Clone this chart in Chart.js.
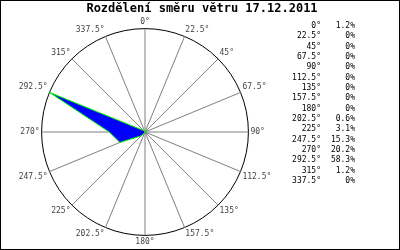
<!DOCTYPE html>
<html>
<head>
<meta charset="utf-8">
<script src="https://cdn.jsdelivr.net/npm/chart.js@4.4.0/dist/chart.umd.min.js"></script>
<style>
  html, body { margin: 0; padding: 0; background: #fff; }
  canvas { display: block; }
</style>
</head>
<body>
<canvas id="vitr" width="400" height="250"></canvas>
<script>
const smery = ["0°", "22.5°", "45°", "67.5°", "90°", "112.5°", "135°", "157.5°",
  "180°", "202.5°", "225°", "247.5°", "270°", "292.5°", "315°", "337.5°"];
const procenta = [1.2, 0, 0, 0, 0, 0, 0, 0, 0, 0.6, 3.1, 15.3, 20.2, 58.3, 1.2, 0];
const nadpis = "Rozdělení směru větru 17.12.2011";

const mono = "'DejaVu Sans Mono', 'Liberation Mono', monospace";

function formatProc(v) {
  return v === 0 ? "0%" : v.toFixed(1) + "%";
}

// bily podklad, nadpis a ramecek kolem obrazku
const ramecek = {
  id: "ramecek",
  beforeDraw(chart) {
    const ctx = chart.ctx;
    ctx.save();
    ctx.fillStyle = "#fff";
    ctx.fillRect(0, 0, chart.width, chart.height);
    ctx.restore();
  },
  afterDraw(chart) {
    const ctx = chart.ctx;
    ctx.save();
    ctx.fillStyle = "#000";
    ctx.font = "bold 12px " + mono;
    ctx.textAlign = "center";
    ctx.textBaseline = "middle";
    ctx.fillText(nadpis, chart.width / 2 + 2, 9);
    ctx.strokeStyle = "#000";
    ctx.lineWidth = 1;
    ctx.strokeRect(0.5, 0.5, chart.width - 1, chart.height - 1);
    ctx.restore();
  }
};

// tabulka s hodnotami vpravo
const tabulka = {
  id: "tabulka",
  afterDraw(chart) {
    const ctx = chart.ctx;
    ctx.save();
    ctx.font = "8px " + mono;
    ctx.fillStyle = "#000";
    ctx.textBaseline = "middle";
    ctx.textAlign = "right";
    smery.forEach((s, i) => {
      const y = 26 + i * 10.33;
      ctx.fillText(s, 321, y);
      ctx.fillText(formatProc(procenta[i]), 355, y);
    });
    ctx.restore();
  }
};

const graf = new Chart(document.getElementById("vitr"), {
  type: "radar",
  data: {
    labels: smery,
    datasets: [{
      data: procenta,
      backgroundColor: "#0000ff",
      borderColor: "#00ff00",
      borderWidth: 1,
      pointRadius: 0,
      fill: true
    }]
  },
  options: {
    responsive: false,
    animation: false,
    layout: { padding: { left: 14, right: 124, top: 17, bottom: 2 } },
    plugins: {
      legend: { display: false },
      tooltip: { enabled: false },
      title: { display: false }
    },
    scales: {
      r: {
        min: 0,
        max: 58.3,
        ticks: { display: false },
        grid: {
          circular: true,
          color: (c) => (c.tick && c.tick.value === c.scale.max ? "#000" : "rgba(0,0,0,0)"),
          lineWidth: 1
        },
        angleLines: { color: "#808080", lineWidth: 1 },
        pointLabels: {
          color: "#444",
          padding: 2,
          font: { family: mono, size: 8 }
        }
      }
    }
  },
  plugins: [ramecek, tabulka]
});
</script>
</body>
</html>
